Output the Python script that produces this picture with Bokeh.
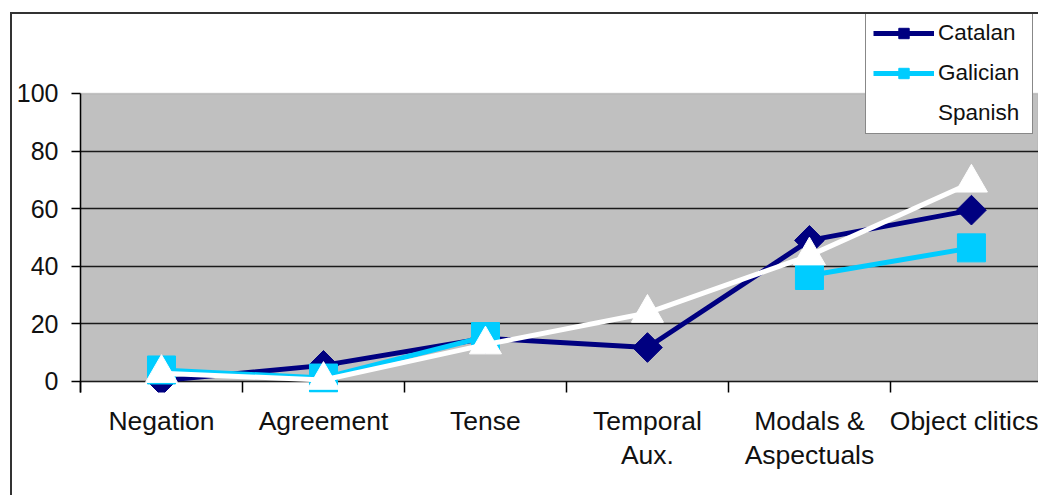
import math
from bokeh.plotting import figure
from bokeh.layouts import column
from bokeh.models import Range1d, FixedTicker, BoxAnnotation, Legend, LegendItem
from bokeh.embed import file_html
from bokeh.resources import INLINE

# ---- data ----
categories = ["Negation", "Agreement", "Tense", "Temporal\nAux.", "Modals &\nAspectuals", "Object clitics"]
catalan = [0.3, 5.6, 15.0, 11.8, 49.0, 59.5]
galician = [4.0, 1.2, 15.6, float("nan"), 36.8, 46.4]
spanish = [2.9, 0.5, 12.8, 23.8, 43.7, 69.0]
y_ticks = [0, 20, 40, 60, 80, 100]
grid_ticks = [0, 20, 40, 60, 80]

x_pos = [i + 0.5 for i in range(len(categories))]
bounds = list(range(len(categories) + 1))

FONT = "Liberation Sans"
TXT = "#111111"

p = figure(width=1026, height=481, output_backend="svg", toolbar_location=None,
           x_range=Range1d(0, 5.914), y_range=Range1d(-3.82, 127.43),
           min_border_left=68, min_border_right=0, min_border_top=0, min_border_bottom=103)
p.background_fill_color = "white"
p.border_fill_color = "white"
p.outline_line_color = None

# gray plot area
p.add_layout(BoxAnnotation(bottom=0, top=100, fill_color="#c0c0c0", fill_alpha=1.0,
                           line_color="#808080", line_width=1.5, level="image"))

p.xgrid.visible = False
p.ygrid.ticker = FixedTicker(ticks=grid_ticks)
p.ygrid.grid_line_color = "#1a1a1a"
p.ygrid.grid_line_width = 1.5

# y axis
p.yaxis.ticker = FixedTicker(ticks=y_ticks)
p.yaxis.bounds = (-3.82, 100)
p.yaxis.major_tick_out = 9
p.yaxis.major_tick_in = 0
p.yaxis.minor_tick_line_color = None
p.yaxis.major_label_standoff = 13
p.yaxis.major_label_text_font = FONT
p.yaxis.major_label_text_font_size = "25px"
p.yaxis.major_label_text_color = TXT
p.yaxis.axis_line_width = 1.5
p.yaxis.major_tick_line_width = 1.5

# x axis (category boundaries as minor ticks reaching up to the zero line)
p.xaxis.ticker = FixedTicker(ticks=x_pos, minor_ticks=bounds)
p.xaxis.major_label_overrides = {xv: c for xv, c in zip(x_pos, categories)}
p.xaxis.axis_line_color = None
p.xaxis.major_tick_line_color = None
p.xaxis.major_tick_out = 0
p.xaxis.major_tick_in = 0
p.xaxis.minor_tick_out = 0
p.xaxis.minor_tick_in = 11
p.xaxis.minor_tick_line_color = "black"
p.xaxis.minor_tick_line_width = 1.5
p.xaxis.major_label_standoff = 13
p.xaxis.major_label_text_font = FONT
p.xaxis.major_label_text_font_size = "26.5px"
p.xaxis.major_label_text_color = TXT
p.xaxis.major_label_text_line_height = 1.15

# series
NAVY = "#000080"
CYAN = "#00ccff"
r1 = p.line(x_pos, catalan, line_color=NAVY, line_width=5, line_join="round")
s1 = p.scatter(x_pos, catalan, marker="square", angle=math.pi / 4, size=21,
               fill_color=NAVY, line_color=NAVY)
r2 = p.line(x_pos, galician, line_color=CYAN, line_width=5, line_join="round")
s2 = p.scatter(x_pos, galician, marker="square", size=28, fill_color=CYAN, line_color=CYAN)
r3 = p.line(x_pos, spanish, line_color="white", line_width=5, line_join="round")
s3 = p.scatter(x_pos, spanish, marker="triangle", size=32, fill_color="white", line_color="white")

legend = Legend(items=[LegendItem(label="Catalan", renderers=[r1, s1]),
                       LegendItem(label="Galician", renderers=[r2, s2]),
                       LegendItem(label="Spanish", renderers=[r3, s3])],
                location=(785, 258))
legend.border_line_color = "#111111"
legend.border_line_width = 1.5
legend.background_fill_color = "white"
legend.background_fill_alpha = 1.0
legend.label_text_font = FONT
legend.label_text_font_size = "22.5px"
legend.label_text_color = TXT
legend.glyph_width = 61
legend.glyph_height = 26
legend.spacing = 14
legend.padding = 7
legend.label_standoff = 4
legend.label_width = 87
legend.margin = 0
p.add_layout(legend)

layout = column(p, styles={"margin-left": "10px", "margin-top": "12px",
                           "border-left": "2px solid #333333",
                           "border-top": "2px solid #333333"})

open("out.html", "w").write(file_html(layout, INLINE))
